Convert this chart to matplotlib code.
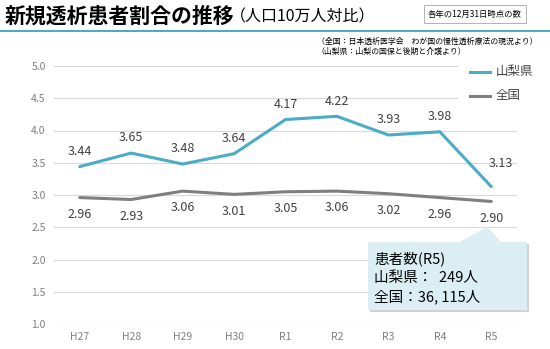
import numpy as np
import matplotlib.pyplot as plt
from matplotlib.patches import Polygon, Rectangle
from matplotlib.lines import Line2D

plt.rcParams['font.family'] = ['Noto Sans CJK JP', 'DejaVu Sans']

years = ['H27', 'H28', 'H29', 'H30', 'R1', 'R2', 'R3', 'R4', 'R5']
yamanashi = [3.44, 3.65, 3.48, 3.64, 4.17, 4.22, 3.93, 3.98, 3.13]
zenkoku = [2.96, 2.93, 3.06, 3.01, 3.05, 3.06, 3.02, 2.96, 2.90]

W, H = 550, 349
fig = plt.figure(figsize=(W / 100, H / 100), dpi=100)


def fx(px):
    return px / W


def fy(py):
    return 1 - py / H


ax = fig.add_axes([fx(54), fy(324), fx(517) - fx(54), fy(66) - fy(324)])
x = np.arange(len(years))
ax.plot(x, yamanashi, color='#4BACC6', lw=2.2, solid_capstyle='round')
ax.plot(x, zenkoku, color='#7F7F7F', lw=2.2, solid_capstyle='round')
ax.set_xlim(-0.5, len(years) - 0.5)
ax.set_ylim(1.0, 5.0)
ax.set_yticks(np.arange(1.0, 5.01, 0.5))
ax.set_yticklabels([f'{v:.1f}' for v in np.arange(1.0, 5.01, 0.5)])
ax.set_xticks(x)
ax.set_xticklabels(years)
ax.tick_params(length=0, labelsize=7.5, colors='#7F7F7F', pad=6)
ax.grid(axis='y', color='#D9D9D9', lw=0.8)
ax.set_axisbelow(True)
for s in ax.spines.values():
    s.set_visible(False)

# data labels
for i, v in enumerate(yamanashi):
    if i == len(years) - 1:
        ax.annotate(f'{v:.2f}', (i, v), xytext=(7, 17), textcoords='offset points',
                    ha='center', va='center', fontsize=9, color='#404040')
    else:
        ax.annotate(f'{v:.2f}', (i, v), xytext=(0, 11), textcoords='offset points',
                    ha='center', va='center', fontsize=9, color='#404040')
for i, v in enumerate(zenkoku):
    ax.annotate(f'{v:.2f}', (i, v), xytext=(0, -12), textcoords='offset points',
                ha='center', va='center', fontsize=9, color='#404040')

# legend (white background covering grid)
fig.patches.append(Rectangle((fx(458), fy(110)), fx(545) - fx(458), fy(58) - fy(110),
                             transform=fig.transFigure, fc='white', ec='none', zorder=5))
for py, lbl, c in [(72, '山梨県', '#4BACC6'), (96, '全国', '#7F7F7F')]:
    fig.lines.append(Line2D([fx(470), fx(490)], [fy(py), fy(py)], transform=fig.transFigure,
                            color=c, lw=2.2, zorder=6))
    fig.text(fx(496), fy(py), lbl, fontsize=9, color='#404040', va='center', zorder=6)

# title
fig.text(fx(5), fy(16), '新規透析患者割合の推移', fontsize=15, fontweight='bold',
         color='#000000', va='center')
fig.text(fx(230), fy(17), '（人口10万人対比）', fontsize=11.5, color='#000000', va='center')
fig.lines.append(Line2D([0, 1], [fy(31), fy(31)], transform=fig.transFigure,
                        color='#4BACC6', lw=1.5))
fig.text(fx(475), fy(14), '各年の12月31日時点の数', fontsize=6, color='#000000',
         ha='center', va='center',
         bbox=dict(boxstyle='square,pad=0.5', fc='white', ec='#A6A6A6', lw=0.6))
fig.text(fx(317), fy(41), '（全国：日本透析医学会　わが国の慢性透析療法の現況より）',
         fontsize=5.7, color='#000000', va='center')
fig.text(fx(317), fy(51), '（山梨県：山梨の国保と後期と介護より）',
         fontsize=5.7, color='#000000', va='center')

# callout
pts = [(368, 242), (460, 242), (487, 227), (500, 242), (527, 242), (527, 310), (368, 310)]
shadow = [(px + 2, py + 2) for px, py in pts]
fig.patches.append(Polygon([(fx(a), fy(b)) for a, b in shadow], closed=True,
                           transform=fig.transFigure, fc='#BFBFBF', ec='none', alpha=0.7, zorder=7))
fig.patches.append(Polygon([(fx(a), fy(b)) for a, b in pts], closed=True,
                           transform=fig.transFigure, fc='#DAEEF3', ec='none', zorder=8))
fig.text(fx(374), fy(259), '患者数(R5)', fontsize=10.5, color='#000000', va='center', zorder=9)
fig.text(fx(374), fy(278), '山梨県：  249人', fontsize=10.5, color='#000000', va='center', zorder=9)
fig.text(fx(374), fy(297), '全国：36, 115人', fontsize=10.5, color='#000000', va='center', zorder=9)

fig.savefig('out.png', dpi=100)
